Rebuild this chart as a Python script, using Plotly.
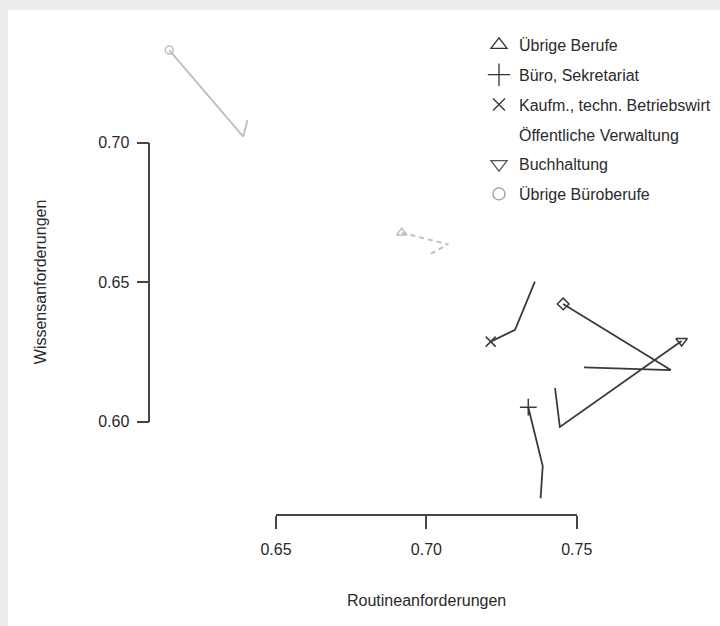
import plotly.graph_objects as go

# ---------------- data ----------------
x_label = "Routineanforderungen"
y_label = "Wissensanforderungen"
x_ticks = [0.65, 0.70, 0.75]
x_ticktext = ["0.65", "0.70", "0.75"]
y_ticks = [0.60, 0.65, 0.70]
y_ticktext = ["0.60", "0.65", "0.70"]

legend_names = ["Übrige Berufe", "Büro, Sekretariat", "Kaufm., techn. Betriebswirt",
                "Öffentliche Verwaltung", "Buchhaltung", "Übrige Büroberufe"]

uebrige_berufe_x = [0.6918, 0.7073, 0.7006]
uebrige_berufe_y = [0.6677, 0.6636, 0.6597]

buero_sekr_x = [0.7339, 0.7387, 0.7380]
buero_sekr_y = [0.6052, 0.5841, 0.5725]

kaufm_x = [0.7214, 0.7295, 0.7361]
kaufm_y = [0.6287, 0.6329, 0.6502]

oeff_verw_x = [0.7455, 0.7813, 0.7524]
oeff_verw_y = [0.6422, 0.6185, 0.6195]

buchhaltung_x = [0.7849, 0.7444, 0.7428]
buchhaltung_y = [0.6289, 0.5981, 0.6120]

uebrige_buero_x = [0.6145, 0.6391, 0.6405]
uebrige_buero_y = [0.7332, 0.7022, 0.7081]

# ---------------- layout calibration (pixels) ----------------
W, H = 720, 626
ML, MT = 8, 10                 # grey frame on left / top
X_PX0, X_SCALE = 276.0, 3007.0  # pixel of x=0.65, px per unit
Y_PX0, Y_SCALE = 142.7, 2790.0  # pixel of y=0.70, px per unit

def xv(px):
    return 0.65 + (px - X_PX0) / X_SCALE

def yv(py):
    return 0.70 - (py - Y_PX0) / Y_SCALE

def fx(px):
    return px / W

def fy(py):
    return (H - py) / H

def xpx(v):
    return X_PX0 + (v - 0.65) * X_SCALE

def ypx(v):
    return Y_PX0 - (v - 0.70) * Y_SCALE

DARK = "#3a3a3a"
GREY = "#bdbdbd"
FONT = "Liberation Sans"
TXT = "#2a2a2a"

series = [
    dict(x=uebrige_berufe_x, y=uebrige_berufe_y, color=GREY, dash="5px,4px",
         symbol="triangle-up-open", size=9),
    dict(x=buero_sekr_x, y=buero_sekr_y, color=DARK, dash="solid",
         symbol="cross-thin-open", size=12),
    dict(x=kaufm_x, y=kaufm_y, color=DARK, dash="solid",
         symbol="x-thin-open", size=10),
    dict(x=oeff_verw_x, y=oeff_verw_y, color=DARK, dash="solid",
         symbol="diamond-open", size=9),
    dict(x=buchhaltung_x, y=buchhaltung_y, color=DARK, dash="solid",
         symbol="triangle-down-open", size=10),
    dict(x=uebrige_buero_x, y=uebrige_buero_y, color=GREY, dash="solid",
         symbol="circle-open", size=8),
]

legend_style = [
    dict(symbol="triangle-up-open", color="#333333", size=14),
    dict(symbol="cross-thin-open", color="#333333", size=16),
    dict(symbol="x-thin-open", color="#333333", size=12),
    dict(symbol="circle-open", color="rgba(0,0,0,0)", size=12),
    dict(symbol="triangle-down-open", color="#555555", size=14),
    dict(symbol="circle-open", color="#9a9a9a", size=12),
]

fig = go.Figure()

for s in series:
    fig.add_trace(go.Scatter(
        x=s["x"], y=s["y"], mode="lines",
        line=dict(color=s["color"], width=1.8, dash=s["dash"]),
        showlegend=False, hoverinfo="skip"))
    fig.add_trace(go.Scatter(
        x=s["x"][:1], y=s["y"][:1], mode="markers",
        marker=dict(symbol=s["symbol"], size=s["size"], color=s["color"],
                    line=dict(color=s["color"], width=1.5)),
        showlegend=False, hoverinfo="skip"))

for i, (name, st) in enumerate(zip(legend_names, legend_style)):
    fig.add_trace(go.Scatter(
        x=[None], y=[None], mode="markers", name=name,
        legendgroup="g%d" % i,
        marker=dict(symbol=st["symbol"], size=st["size"], color=st["color"],
                    line=dict(color=st["color"], width=1.3))))

# decorative range-frame axes
fig.add_trace(go.Scatter(x=[None], y=[None], xaxis="x2", yaxis="y2",
                         showlegend=False, hoverinfo="skip"))

axis_common = dict(showgrid=False, zeroline=False, showline=True,
                   linecolor="#444444", linewidth=1.5, ticks="outside",
                   tickcolor="#444444", tickwidth=1.5,
                   tickfont=dict(family=FONT, size=16, color=TXT),
                   automargin=False, fixedrange=True)

fig.update_layout(
    width=W, height=H,
    margin=dict(l=0, r=0, t=0, b=0, pad=0),
    paper_bgcolor="#ececec", plot_bgcolor="rgba(0,0,0,0)",
    font=dict(family=FONT, size=16, color=TXT),
    xaxis=dict(range=[xv(0), xv(W)], visible=False, fixedrange=True),
    yaxis=dict(range=[yv(H), yv(0)], visible=False, fixedrange=True),
    xaxis2=dict(domain=[fx(xpx(x_ticks[0])), fx(xpx(x_ticks[-1]))],
                range=[x_ticks[0], x_ticks[-1]], anchor="free",
                position=fy(515), tickvals=x_ticks, ticktext=x_ticktext,
                ticklen=13, ticklabelstandoff=7, **axis_common),
    yaxis2=dict(domain=[fy(ypx(y_ticks[0])), fy(ypx(y_ticks[-1]))],
                range=[y_ticks[0], y_ticks[-1]], anchor="free",
                position=fx(149.3), tickvals=y_ticks, ticktext=y_ticktext,
                ticklen=12, ticklabelstandoff=4, **axis_common),
    legend=dict(x=fx(479), y=fy(28), xanchor="left", yanchor="top",
                bgcolor="rgba(0,0,0,0)", borderwidth=0,
                font=dict(family=FONT, size=16, color=TXT),
                traceorder="grouped", tracegroupgap=6),
    shapes=[
        dict(type="rect", xref="paper", yref="paper", layer="below",
             x0=fx(ML), x1=1, y0=0, y1=fy(MT),
             fillcolor="white", line=dict(width=0)),
    ],
    annotations=[
        dict(text=x_label, xref="paper", yref="paper",
             x=fx(xpx(0.70)), y=fy(600), xanchor="center", yanchor="middle",
             showarrow=False, font=dict(family=FONT, size=16, color=TXT)),
        dict(text=y_label, xref="paper", yref="paper", textangle=-90,
             x=fx(40), y=fy(ypx(0.65)), xanchor="center", yanchor="middle",
             showarrow=False, font=dict(family=FONT, size=16, color=TXT)),
    ],
)

fig.write_html("out.html",
               config={"displayModeBar": False},
               post_script="document.body.style.margin='0';"
                           "document.body.style.overflow='hidden';")
